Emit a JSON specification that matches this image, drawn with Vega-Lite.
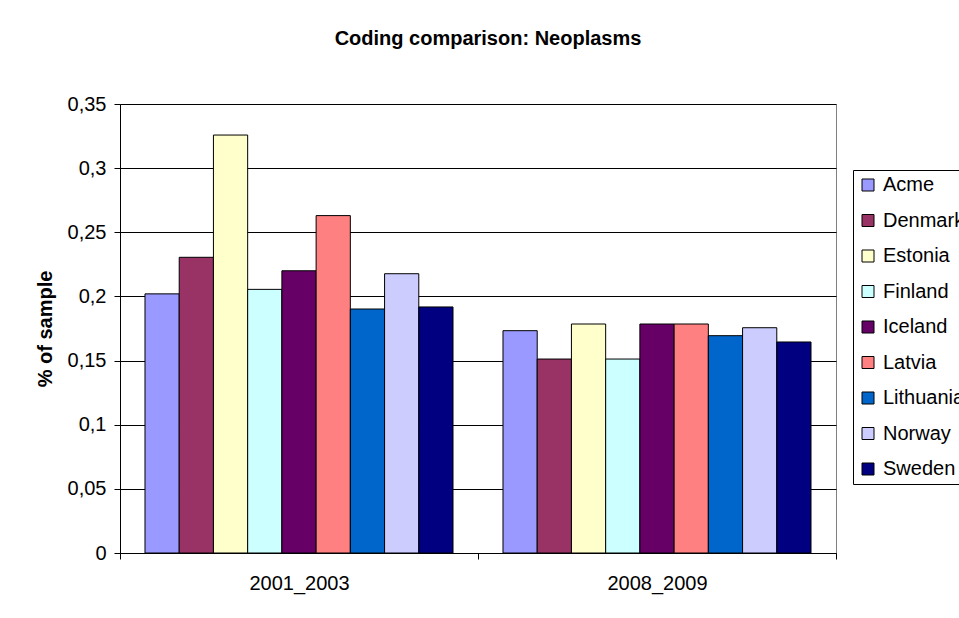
{
  "$schema": "https://vega.github.io/schema/vega-lite/v6.json",
  "width": 716,
  "height": 449,
  "autosize": {"type": "none"},
  "padding": {"left": 120, "top": 104, "right": 123, "bottom": 65},
  "background": "white",
  "title": {
    "text": "Coding comparison: Neoplasms",
    "font": "Liberation Sans",
    "fontSize": 20,
    "fontWeight": "bold",
    "color": "black",
    "anchor": "middle",
    "dx": 10,
    "offset": 45
  },
  "data": {
    "values": [
      {"period": "2001_2003", "country": "Acme", "value": 0.202},
      {"period": "2001_2003", "country": "Denmark", "value": 0.2305},
      {"period": "2001_2003", "country": "Estonia", "value": 0.3258},
      {"period": "2001_2003", "country": "Finland", "value": 0.2055},
      {"period": "2001_2003", "country": "Iceland", "value": 0.22},
      {"period": "2001_2003", "country": "Latvia", "value": 0.263},
      {"period": "2001_2003", "country": "Lithuania", "value": 0.1902},
      {"period": "2001_2003", "country": "Norway", "value": 0.2177},
      {"period": "2001_2003", "country": "Sweden", "value": 0.1918},
      {"period": "2008_2009", "country": "Acme", "value": 0.1733},
      {"period": "2008_2009", "country": "Denmark", "value": 0.1512},
      {"period": "2008_2009", "country": "Estonia", "value": 0.1785},
      {"period": "2008_2009", "country": "Finland", "value": 0.1512},
      {"period": "2008_2009", "country": "Iceland", "value": 0.1785},
      {"period": "2008_2009", "country": "Latvia", "value": 0.1785},
      {"period": "2008_2009", "country": "Lithuania", "value": 0.1694},
      {"period": "2008_2009", "country": "Norway", "value": 0.1756},
      {"period": "2008_2009", "country": "Sweden", "value": 0.1645}
    ]
  },
  "mark": {"type": "bar", "stroke": "black", "strokeWidth": 1},
  "encoding": {
    "x": {
      "field": "period",
      "type": "nominal",
      "scale": {"paddingInner": 0, "paddingOuter": 0},
      "axis": {
        "title": null,
        "labelAngle": 0,
        "tickBand": "extent",
        "tickSize": 6,
        "tickColor": "black",
        "domainColor": "black",
        "labelFont": "Liberation Sans",
        "labelFontSize": 20,
        "labelColor": "black",
        "labelPadding": 14
      }
    },
    "xOffset": {
      "field": "country",
      "type": "nominal",
      "sort": ["Acme", "Denmark", "Estonia", "Finland", "Iceland", "Latvia", "Lithuania", "Norway", "Sweden"],
      "scale": {"paddingInner": 0, "paddingOuter": 0.73}
    },
    "y": {
      "field": "value",
      "type": "quantitative",
      "scale": {"domain": [0, 0.35], "nice": false},
      "axis": {
        "title": "% of sample",
        "titleFont": "Liberation Sans",
        "titleFontSize": 20,
        "titleFontWeight": "bold",
        "titleColor": "black",
        "titlePadding": 12,
        "values": [0, 0.05, 0.1, 0.15, 0.2, 0.25, 0.3, 0.35],
        "labelExpr": "replace(format(datum.value, '.2~f'), '.', ',')",
        "labelFont": "Liberation Sans",
        "labelFontSize": 20,
        "labelColor": "black",
        "labelPadding": 8,
        "tickSize": 6,
        "tickColor": "black",
        "domainColor": "black",
        "grid": true,
        "gridColor": "black",
        "gridWidth": 1
      }
    },
    "color": {
      "field": "country",
      "type": "nominal",
      "scale": {
        "domain": ["Acme", "Denmark", "Estonia", "Finland", "Iceland", "Latvia", "Lithuania", "Norway", "Sweden"],
        "range": ["#9999FF", "#993366", "#FFFFCC", "#CCFFFF", "#660066", "#FF8080", "#0066CC", "#CCCCFF", "#000080"]
      },
      "legend": {
        "title": null,
        "orient": "none",
        "legendX": 733,
        "legendY": 66,
        "strokeColor": "black",
        "fillColor": "white",
        "padding": 5,
        "rowPadding": 15.5,
        "symbolType": "square",
        "symbolSize": 144,
        "symbolStrokeColor": "black",
        "symbolStrokeWidth": 1,
        "symbolOpacity": 1,
        "labelFont": "Liberation Sans",
        "labelFontSize": 20,
        "labelColor": "black",
        "labelOffset": 5,
        "labelLimit": 200
      }
    }
  },
  "config": {
    "view": {"stroke": "#808080", "strokeWidth": 1},
    "axis": {"gridOpacity": 1}
  }
}
